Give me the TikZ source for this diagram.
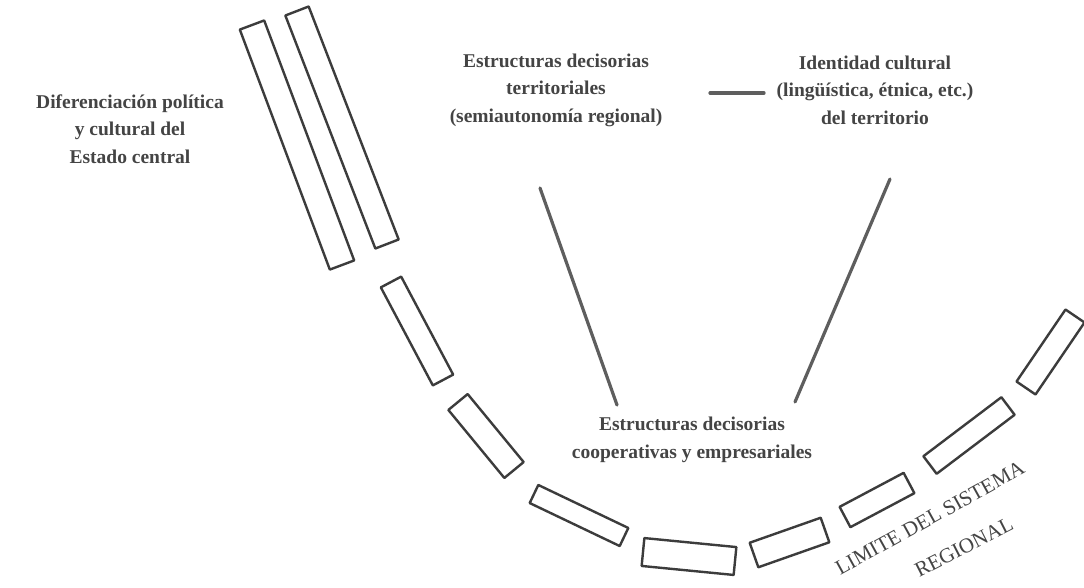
\documentclass[tikz,border=0pt]{standalone}
\usepackage{fontspec}
\setmainfont{Liberation Serif}
\usetikzlibrary{calc}
\definecolor{rectgray}{HTML}{3C3C3C}
\definecolor{linegray}{HTML}{5E5E5E}
\definecolor{txtgray}{HTML}{444444}
\tikzset{
  segbox/.style={draw=rectgray, line width=2.4pt, line join=round},
  link/.style={draw=linegray, line width=3.2pt, line cap=round},
  lbl/.style={text=txtgray, font=\bfseries\fontsize{19.5}{27.5}\selectfont, align=center, inner sep=0pt},
  arclbl/.style={text=txtgray, font=\fontsize{21}{24}\selectfont, inner sep=0pt}
}
\newcommand\segment[3]{%
  \draw[segbox] ($(#1)!#3!90:(#2)$) -- ($(#1)!#3!-90:(#2)$) -- ($(#2)!#3!90:(#1)$) -- ($(#2)!#3!-90:(#1)$) -- cycle;}
\begin{document}
\begin{tikzpicture}[x=1pt,y=-1pt]
\useasboundingbox[fill=white] (0,0) rectangle (1084,587);
% boundary segments
\coordinate (L1a) at (252,25);  \coordinate (L1b) at (342,265);
\coordinate (L2a) at (297,11);  \coordinate (L2b) at (387,244);
\coordinate (Aa) at (391,282);  \coordinate (Ab) at (443,380);
\coordinate (Ba) at (458,402);  \coordinate (Bb) at (514,470);
\coordinate (Ca) at (534,494);  \coordinate (Cb) at (624,537);
\coordinate (Da) at (643,552);  \coordinate (Db) at (735,561);
\coordinate (Ea) at (754,555);  \coordinate (Eb) at (825,530);
\coordinate (Fa) at (845,517);  \coordinate (Fb) at (909,483);
\coordinate (Ga) at (930,465);  \coordinate (Gb) at (1008,406);
\coordinate (Ha) at (1026,388); \coordinate (Hb) at (1075,316);
\segment{L1a}{L1b}{13pt}
\segment{L2a}{L2b}{12.5pt}
\segment{Aa}{Ab}{11.5pt}
\segment{Ba}{Bb}{12.5pt}
\segment{Ca}{Cb}{10pt}
\segment{Da}{Db}{14pt}
\segment{Ea}{Eb}{13pt}
\segment{Fa}{Fb}{11.5pt}
\segment{Ga}{Gb}{11pt}
\segment{Ha}{Hb}{11.5pt}
% labels
\node[lbl] (terr) at (556,90) {Estructuras decisorias\\territoriales\\(semiautonomía regional)};
\node[lbl] (ident) at (875,90) {Identidad cultural\\(lingüística, étnica, etc.)\\del territorio};
\node[lbl] (dif) at (130,129) {Diferenciación política\\y cultural del\\Estado central};
\node[lbl] (coop) at (692,440) {Estructuras decisorias\\cooperativas y empresariales};
\node[arclbl, rotate=29] (lim) at (930,518) {LIMITE DEL SISTEMA};
\node[arclbl, rotate=27] (reg) at (964,547) {REGIONAL};
% connectors
\coordinate (h1) at (710,93); \coordinate (h2) at (764,93);
\coordinate (t1) at (540,188); \coordinate (t2) at (617,405);
\coordinate (i1) at (890,179); \coordinate (i2) at (795,402);
\draw[link] (h1) -- (h2);
\draw[link] (t1) -- (t2);
\draw[link] (i1) -- (i2);
\end{tikzpicture}
\end{document}
